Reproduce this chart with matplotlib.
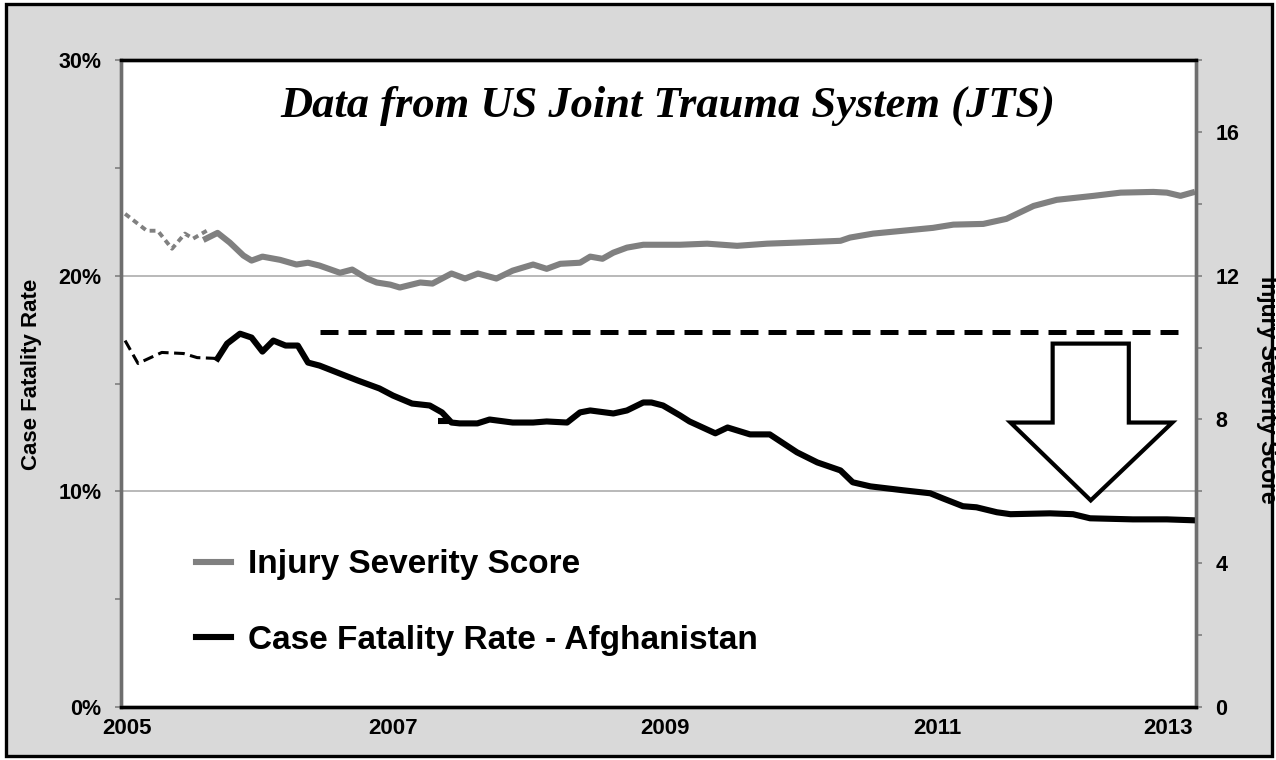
import numpy as np
import matplotlib
matplotlib.use("Agg")
import matplotlib.pyplot as plt
from matplotlib.lines import Line2D
from matplotlib.patches import Rectangle, Polygon

plt.rcParams["font.family"] = ["Liberation Sans", "DejaVu Sans"]
plt.rcParams["font.weight"] = "bold"

# --- data ---
iss_early_x = [2005.03, 2005.19, 2005.27, 2005.375, 2005.47, 2005.53, 2005.63]
iss_early_y = [13.72, 13.25, 13.25, 12.75, 13.17, 13.03, 13.25]

iss_x = [2005.625, 2005.71, 2005.80, 2005.90, 2005.96, 2006.04, 2006.17, 2006.29,
         2006.375, 2006.46, 2006.61, 2006.70, 2006.81, 2006.88, 2006.98, 2007.05,
         2007.20, 2007.29, 2007.43, 2007.53, 2007.625, 2007.76, 2007.88, 2008.03,
         2008.13, 2008.23, 2008.375, 2008.45, 2008.54, 2008.62, 2008.72, 2008.84,
         2009.11, 2009.31, 2009.53, 2009.75, 2009.97, 2010.29, 2010.36, 2010.53,
         2010.75, 2010.97, 2011.12, 2011.34, 2011.51, 2011.71, 2011.88, 2012.15,
         2012.35, 2012.59, 2012.69, 2012.79, 2012.875]
iss_y = [13.03, 13.19, 12.92, 12.56, 12.42, 12.53, 12.44, 12.31,
         12.36, 12.28, 12.08, 12.17, 11.92, 11.81, 11.75, 11.67,
         11.81, 11.78, 12.06, 11.92, 12.06, 11.92, 12.14, 12.31,
         12.19, 12.33, 12.36, 12.53, 12.47, 12.64, 12.78, 12.86,
         12.86, 12.89, 12.83, 12.89, 12.92, 12.97, 13.06, 13.17,
         13.25, 13.33, 13.42, 13.44, 13.58, 13.94, 14.11, 14.22,
         14.31, 14.33, 14.31, 14.22, 14.31]

cfr_early_x = [2005.03, 2005.125, 2005.30, 2005.46, 2005.56, 2005.71]
cfr_early_y = [16.99, 15.93, 16.44, 16.39, 16.20, 16.16]

cfr_x = [2005.71, 2005.78, 2005.875, 2005.96, 2006.04, 2006.12, 2006.21, 2006.30,
         2006.375, 2006.46, 2006.61, 2006.74, 2006.90, 2007.00, 2007.14, 2007.27,
         2007.36, 2007.43, 2007.49, 2007.62, 2007.71, 2007.88, 2008.03, 2008.13,
         2008.28, 2008.375, 2008.45, 2008.62, 2008.72, 2008.84, 2008.90, 2008.985,
         2009.11, 2009.18, 2009.37, 2009.46, 2009.625, 2009.77, 2009.97, 2010.12,
         2010.29, 2010.38, 2010.51, 2010.75, 2010.95, 2011.04, 2011.19, 2011.29,
         2011.44, 2011.54, 2011.83, 2012.00, 2012.125, 2012.44, 2012.69, 2012.875]
cfr_y = [16.16, 16.85, 17.31, 17.13, 16.48, 16.99, 16.76, 16.76,
         15.97, 15.83, 15.46, 15.14, 14.77, 14.44, 14.07, 13.98,
         13.66, 13.19, 13.15, 13.15, 13.33, 13.19, 13.19, 13.24,
         13.19, 13.66, 13.75, 13.61, 13.75, 14.12, 14.12, 13.98,
         13.52, 13.24, 12.69, 12.96, 12.64, 12.64, 11.81, 11.34,
         10.97, 10.42, 10.23, 10.05, 9.91, 9.68, 9.31, 9.26,
         9.03, 8.94, 8.98, 8.94, 8.75, 8.70, 8.70, 8.66]

cfr_stub_x = [2007.33, 2007.43]
cfr_stub_y = [13.24, 13.24]

baseline_x = [2006.46, 2012.81]
baseline_y = [17.4, 17.4]

year_ticks = [2005.045, 2007, 2009, 2011, 2012.7]
year_labels = ["2005", "2007", "2009", "2011", "2013"]

GREY = "#808080"

fig = plt.figure(figsize=(12.76, 7.6), dpi=100)
fig.patch.set_facecolor("white")
frame = Rectangle((6 / 1276, 4 / 760), 1266 / 1276, 752 / 760,
                  transform=fig.transFigure, facecolor="#d9d9d9",
                  edgecolor="black", linewidth=2.4, zorder=-5)
fig.add_artist(frame)

ax = fig.add_axes([121 / 1276, 53 / 760, 1075 / 1276, 647 / 760])
ax.set_facecolor("white")
ax2 = ax.twinx()

ax.set_xlim(2005, 2012.904)
ax.set_ylim(0, 30)
ax2.set_ylim(0, 18)

# grid
for g in [10, 20]:
    ax.axhline(g, color="#b3b3b3", lw=1.3, zorder=1)

# CFR on left axis
ax.plot(cfr_early_x, cfr_early_y, color="black", lw=2.2, dashes=(3.5, 1.8), zorder=3)
ax.plot(cfr_x, cfr_y, color="black", lw=4.4, solid_joinstyle="round", zorder=3)
ax.plot(cfr_stub_x, cfr_stub_y, color="black", lw=4.4, solid_capstyle="butt", zorder=3)
ax.plot(baseline_x, baseline_y, color="black", lw=3.6, dashes=(3.6, 2.0), zorder=3)

# ISS on right axis
ax2.plot(iss_early_x, iss_early_y, color=GREY, lw=2.8, dashes=(1.5, 1.1))
ax2.plot(iss_x, iss_y, color=GREY, lw=4.4, solid_joinstyle="round")

# arrow
arrow = [(2011.85, 16.85), (2012.41, 16.85), (2012.41, 13.19), (2012.73, 13.19),
         (2012.13, 9.58), (2011.54, 13.19), (2011.85, 13.19)]
ax.add_patch(Polygon(arrow, closed=True, facecolor="white", edgecolor="black",
                     lw=3.0, joinstyle="miter", zorder=4))

# title
ax.text(0.509, 0.912, "Data from US Joint Trauma System (JTS)",
        transform=ax.transAxes, ha="center", va="baseline",
        family="Liberation Serif", style="italic", weight="bold", fontsize=32)

# axes styling
ax.set_xticks(year_ticks)
ax.set_xticklabels(year_labels)
ax.set_yticks([0, 10, 20, 30])
ax.set_yticklabels(["0%", "10%", "20%", "30%"])
ax.set_yticks([5, 15, 25], minor=True)
ax.tick_params(axis="x", length=0, pad=8, labelsize=16)
ax.tick_params(axis="y", which="both", length=4, width=1.2, color=GREY,
               pad=10, labelsize=15.5)
ax2.set_yticks([0, 4, 8, 12, 16])
ax2.set_yticks([2, 6, 10, 14, 18], minor=True)
ax2.tick_params(axis="y", which="both", length=4, width=1.2, color=GREY,
                pad=10, labelsize=15.5)

for a in (ax, ax2):
    a.spines["top"].set_color("black")
    a.spines["top"].set_linewidth(2.4)
    a.spines["bottom"].set_color("black")
    a.spines["bottom"].set_linewidth(2.4)
    a.spines["left"].set_color("#6e6e6e")
    a.spines["left"].set_linewidth(2.4)
    a.spines["right"].set_color("#6e6e6e")
    a.spines["right"].set_linewidth(2.4)

fig.text(32 / 1276, 1 - 374 / 760, "Case Fatality Rate", rotation=90,
         ha="center", va="center", fontsize=16, weight="bold")
fig.text(1267 / 1276, 1 - 390 / 760, "Injury Severity Score", rotation=-90,
         ha="center", va="center", fontsize=16.5, weight="bold")

# legend
handles = [Line2D([], [], color=GREY, lw=4.4),
           Line2D([], [], color="black", lw=4.4)]
leg = ax2.legend(handles, ["Injury Severity Score", "Case Fatality Rate - Afghanistan"],
                 loc="upper left", bbox_to_anchor=(0.057, 0.2645), frameon=False,
                 prop={"size": 24, "weight": "bold"}, handlelength=1.06,
                 handletextpad=0.5, labelspacing=1.34, borderaxespad=0)

fig.savefig("out.png", dpi=100)
